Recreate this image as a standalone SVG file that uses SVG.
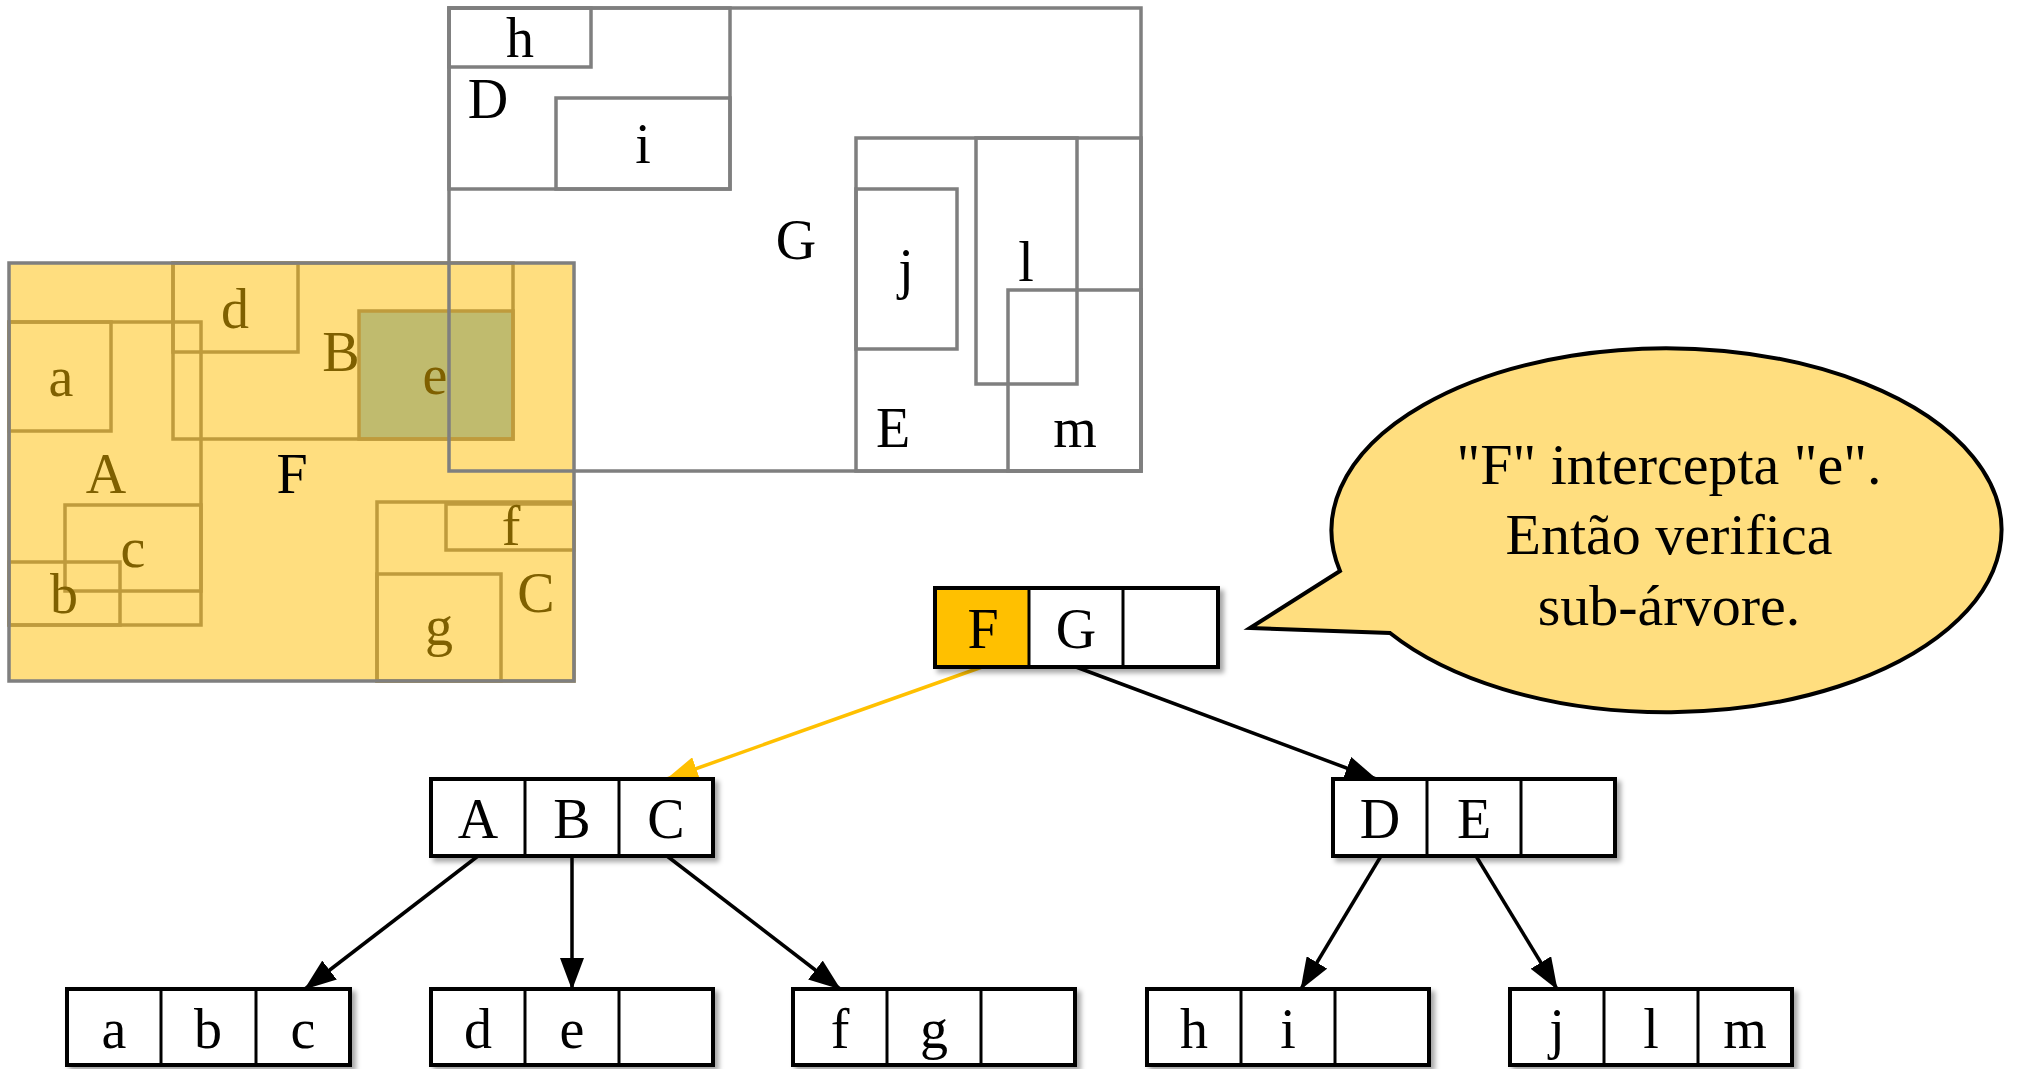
<svg xmlns="http://www.w3.org/2000/svg" width="2022" height="1069" viewBox="0 0 2022 1069">
  <defs>
    <style>
      .lbl { font-family: "Liberation Serif", "Times New Roman", serif; font-size: 56px; text-anchor: middle; fill: #000; }
      .gold { fill: #7F6000; }
      .grect { fill: none; stroke: #7F7F7F; stroke-width: 3.5; }
      .yrect { fill: none; stroke: #BF9B3C; stroke-width: 3.5; }
      .cell { fill: #fff; stroke: #000; stroke-width: 4; }
      .div { stroke: #000; stroke-width: 3; }
      .edge { stroke: #000; stroke-width: 3.5; fill: none; }
      .hot { stroke: #FFC000; stroke-width: 3.5; fill: none; }
      .bubble-text { font-family: "Liberation Serif", "Times New Roman", serif; font-size: 58px; text-anchor: middle; fill: #000; }
    </style>
    <filter id="shadow" x="-10%" y="-20%" width="125%" height="150%">
      <feDropShadow dx="4" dy="4" stdDeviation="2.5" flood-color="#000" flood-opacity="0.35"/>
    </filter>
    <marker id="arrow" markerUnits="userSpaceOnUse" markerWidth="32" markerHeight="24" viewBox="0 0 32 24" refX="31" refY="12" orient="auto">
      <path d="M0,0 L32,12 L0,24 Z" fill="#000"/>
    </marker>
    <marker id="arrow-hot" markerUnits="userSpaceOnUse" markerWidth="32" markerHeight="24" viewBox="0 0 32 24" refX="31" refY="12" orient="auto">
      <path d="M0,0 L32,12 L0,24 Z" fill="#FFC000"/>
    </marker>
  </defs>

  <rect width="2022" height="1069" fill="#fff"/>

  <!-- Spatial view: region F (filled) and region G with their children -->
  <g id="space">
    <rect x="9" y="263" width="565" height="418" fill="#FFDE7F"/>
    <rect x="359" y="311" width="154" height="128" fill="#C0BB6E"/>

    <!-- children of F -->
    <rect class="yrect" x="9" y="322" width="192" height="303"/>
    <rect class="yrect" x="9" y="322" width="102" height="109"/>
    <rect class="yrect" x="65" y="505" width="136" height="86"/>
    <rect class="yrect" x="9" y="562" width="111" height="63"/>
    <rect class="yrect" x="173" y="263" width="340" height="176"/>
    <rect class="yrect" x="173" y="263" width="125" height="89"/>
    <rect class="yrect" x="359" y="311" width="154" height="128"/>
    <rect class="yrect" x="377" y="502" width="197" height="179"/>
    <rect class="yrect" x="446" y="504" width="128" height="46"/>
    <rect class="yrect" x="377" y="574" width="124" height="107"/>

    <!-- F and G outlines with G's children -->
    <rect class="grect" x="9" y="263" width="565" height="418"/>
    <rect class="grect" x="449" y="8" width="692" height="463"/>
    <rect class="grect" x="449" y="8" width="142" height="59"/>
    <rect class="grect" x="449" y="8" width="281" height="181"/>
    <rect class="grect" x="556" y="98" width="174" height="91"/>
    <rect class="grect" x="856" y="138" width="285" height="333"/>
    <rect class="grect" x="856" y="189" width="101" height="160"/>
    <rect class="grect" x="976" y="138" width="101" height="246"/>
    <rect class="grect" x="1008" y="290" width="133" height="181"/>

    <!-- labels -->
    <text class="lbl gold" x="235" y="328">d</text>
    <text class="lbl gold" x="61" y="396">a</text>
    <text class="lbl gold" x="341" y="371">B</text>
    <text class="lbl gold" x="435" y="394">e</text>
    <text class="lbl gold" x="106" y="493">A</text>
    <text class="lbl" x="292" y="493">F</text>
    <text class="lbl gold" x="511" y="545">f</text>
    <text class="lbl gold" x="133" y="567">c</text>
    <text class="lbl gold" x="64" y="613">b</text>
    <text class="lbl gold" x="536" y="612">C</text>
    <text class="lbl gold" x="439" y="645">g</text>

    <text class="lbl" x="520" y="57">h</text>
    <text class="lbl" x="488" y="118">D</text>
    <text class="lbl" x="643" y="163">i</text>
    <text class="lbl" x="796" y="259">G</text>
    <text class="lbl" x="906" y="288">j</text>
    <text class="lbl" x="1026" y="281">l</text>
    <text class="lbl" x="893" y="447">E</text>
    <text class="lbl" x="1075" y="447">m</text>
  </g>

  <!-- Connectors -->
  <g id="connectors">
    <line class="hot" x1="982" y1="667" x2="667" y2="779" marker-end="url(#arrow-hot)"/>
    <line class="edge" x1="1076" y1="667" x2="1376" y2="779" marker-end="url(#arrow)"/>
    <line class="edge" x1="478" y1="856" x2="305" y2="989" marker-end="url(#arrow)"/>
    <line class="edge" x1="572" y1="856" x2="572" y2="989" marker-end="url(#arrow)"/>
    <line class="edge" x1="667" y1="856" x2="840" y2="989" marker-end="url(#arrow)"/>
    <line class="edge" x1="1381" y1="856" x2="1301" y2="989" marker-end="url(#arrow)"/>
    <line class="edge" x1="1476" y1="856" x2="1557" y2="989" marker-end="url(#arrow)"/>
  </g>

  <!-- Tree nodes -->
  <g id="node-FG">
    <rect class="cell" x="935" y="588" width="283" height="79" filter="url(#shadow)"/>
    <rect x="937" y="590" width="92" height="75" fill="#FFC000"/>
    <line class="div" x1="1029" y1="588" x2="1029" y2="667"/>
    <line class="div" x1="1123" y1="588" x2="1123" y2="667"/>
    <rect x="935" y="588" width="283" height="79" fill="none" stroke="#000" stroke-width="4"/>
    <text class="lbl" x="983" y="648">F</text>
    <text class="lbl" x="1076" y="648">G</text>
  </g>

  <g id="node-ABC">
    <rect class="cell" x="431" y="779" width="282" height="77" filter="url(#shadow)"/>
    <line class="div" x1="525" y1="779" x2="525" y2="856"/>
    <line class="div" x1="619" y1="779" x2="619" y2="856"/>
    <text class="lbl" x="478" y="838">A</text>
    <text class="lbl" x="572" y="838">B</text>
    <text class="lbl" x="666" y="838">C</text>
  </g>

  <g id="node-DE">
    <rect class="cell" x="1333" y="779" width="282" height="77" filter="url(#shadow)"/>
    <line class="div" x1="1427" y1="779" x2="1427" y2="856"/>
    <line class="div" x1="1521" y1="779" x2="1521" y2="856"/>
    <text class="lbl" x="1380" y="838">D</text>
    <text class="lbl" x="1474" y="838">E</text>
  </g>

  <g id="node-abc">
    <rect class="cell" x="67" y="989" width="283" height="76" filter="url(#shadow)"/>
    <line class="div" x1="161" y1="989" x2="161" y2="1065"/>
    <line class="div" x1="256" y1="989" x2="256" y2="1065"/>
    <text class="lbl" x="114" y="1048">a</text>
    <text class="lbl" x="208" y="1048">b</text>
    <text class="lbl" x="303" y="1048">c</text>
  </g>

  <g id="node-de">
    <rect class="cell" x="431" y="989" width="282" height="76" filter="url(#shadow)"/>
    <line class="div" x1="525" y1="989" x2="525" y2="1065"/>
    <line class="div" x1="619" y1="989" x2="619" y2="1065"/>
    <text class="lbl" x="478" y="1048">d</text>
    <text class="lbl" x="572" y="1048">e</text>
  </g>

  <g id="node-fg">
    <rect class="cell" x="793" y="989" width="282" height="76" filter="url(#shadow)"/>
    <line class="div" x1="887" y1="989" x2="887" y2="1065"/>
    <line class="div" x1="981" y1="989" x2="981" y2="1065"/>
    <text class="lbl" x="840" y="1048">f</text>
    <text class="lbl" x="934" y="1048">g</text>
  </g>

  <g id="node-hi">
    <rect class="cell" x="1147" y="989" width="282" height="76" filter="url(#shadow)"/>
    <line class="div" x1="1241" y1="989" x2="1241" y2="1065"/>
    <line class="div" x1="1335" y1="989" x2="1335" y2="1065"/>
    <text class="lbl" x="1194" y="1048">h</text>
    <text class="lbl" x="1288" y="1048">i</text>
  </g>

  <g id="node-jlm">
    <rect class="cell" x="1510" y="989" width="282" height="76" filter="url(#shadow)"/>
    <line class="div" x1="1604" y1="989" x2="1604" y2="1065"/>
    <line class="div" x1="1698" y1="989" x2="1698" y2="1065"/>
    <text class="lbl" x="1557" y="1048">j</text>
    <text class="lbl" x="1651" y="1048">l</text>
    <text class="lbl" x="1745" y="1048">m</text>
  </g>

  <!-- Speech bubble -->
  <g id="bubble">
    <path d="M1340,571 L1250,628 L1390,633 A335,182 0 1 0 1340,571 Z" fill="#FFDE7F" stroke="#000" stroke-width="4" stroke-linejoin="miter"/>
    <text class="bubble-text" x="1669" y="484">"F" intercepta "e".</text>
    <text class="bubble-text" x="1669" y="554">Então verifica</text>
    <text class="bubble-text" x="1669" y="625">sub-árvore.</text>
  </g>
</svg>
